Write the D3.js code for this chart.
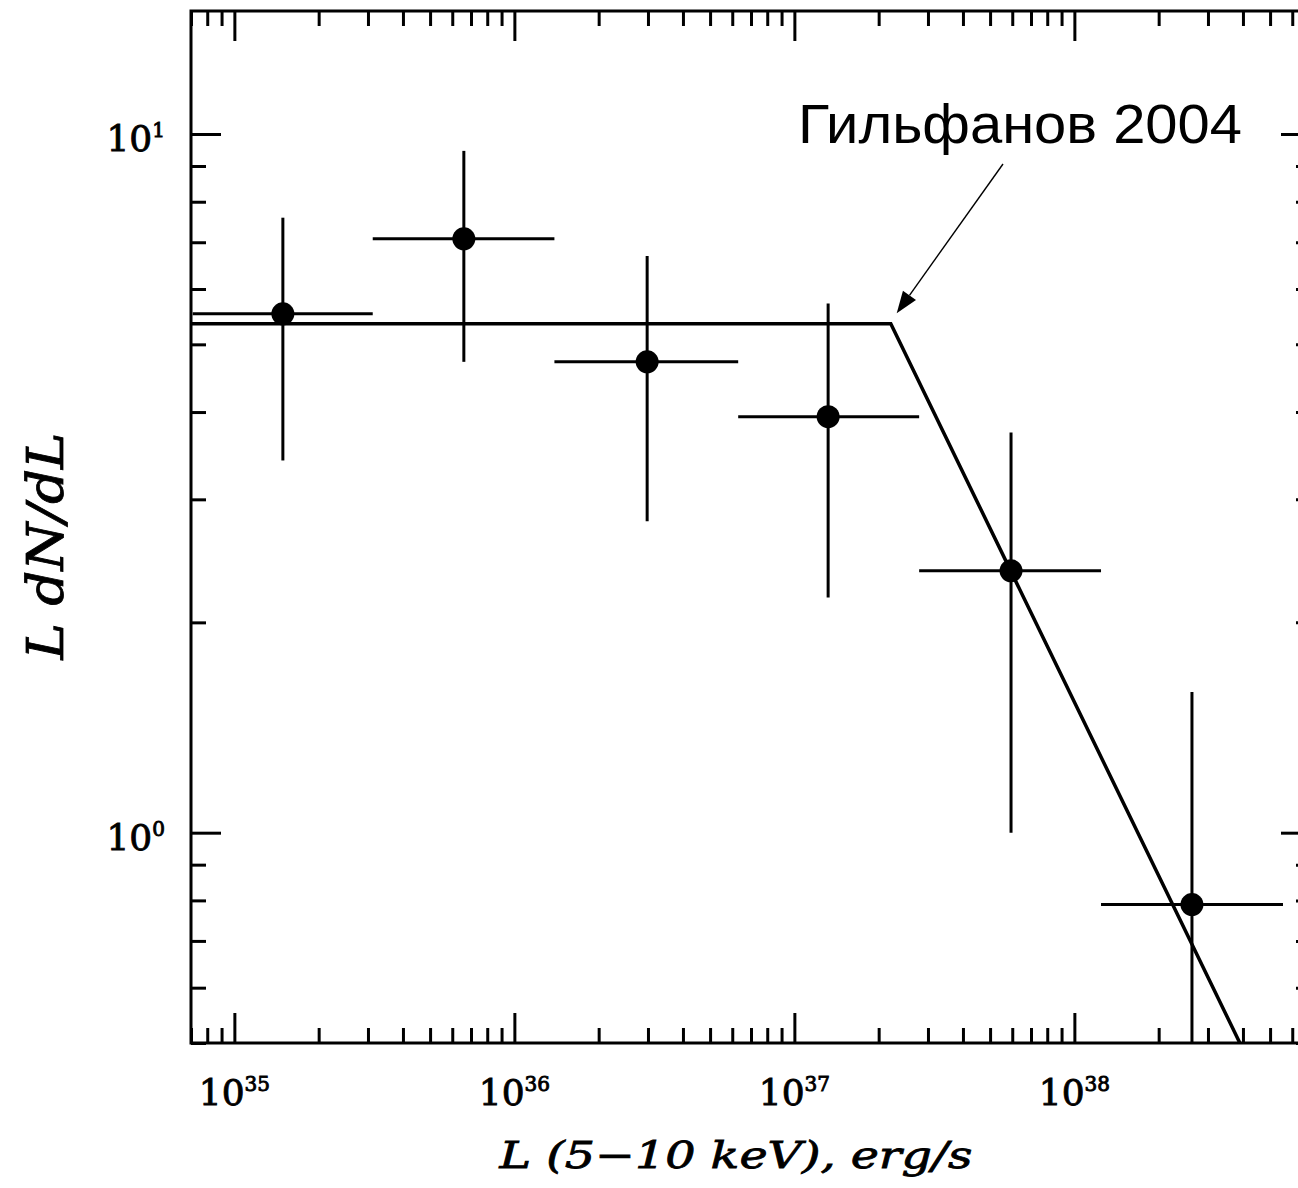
<!DOCTYPE html>
<html>
<head>
<meta charset="utf-8">
<script src="https://cdn.jsdelivr.net/npm/d3@7"></script>
<style>
  html, body { margin: 0; padding: 0; background: #fff; }
  svg { display: block; }
</style>
</head>
<body>
<script>
// Luminosity bins (erg/s): shared edges, bin centres and L dN/dL values with errors
const binEdges = [7.1e34, 3.12e35, 1.39e36, 6.3e36, 2.79e37, 1.245e38, 5.56e38];
const lum      = [1.49e35, 6.6e35, 2.98e36, 1.32e37, 5.94e37, 2.63e38];
const ldndl    = [5.53, 7.08, 4.72, 3.94, 2.37, 0.789];
const errUpper = [7.59, 9.46, 6.69, 5.72, 3.74, 1.59];
const errLower = [3.41, 4.72, 2.79, 2.17, 1.00, 0.45];

// Broken power-law model (flat, then falling above the break)
const modelL = [7e34, 2.21e37, 3.9e38];
const modelV = [5.35, 5.35, 0.5];

// Annotation: label and arrow pointing at the break
const noteText = "Гильфанов 2004";
const noteAt = [1.03e37, 9.7];
const arrowFrom = [5.56e37, 9.06];
const arrowTo = [2.32e37, 5.54];

// Axis decades
const xDecades = [35, 36, 37, 38];
const yDecades = [0, 1];

const W = 1298, H = 1188;
const svg = d3.select("body").append("svg").attr("width", W).attr("height", H);

const pLeft = 191, pRight = 1311, pTop = 11, pBottom = 1043;
const x = d3.scaleLog().domain([7e34, 7e38]).range([pLeft, pRight]);
const y = d3.scaleLog().domain([0.5, 15]).range([pBottom, pTop]);

// tick value sets
function logTicks(scale) {
  const [a, b] = scale.domain();
  const major = [], minor = [];
  for (let e = Math.floor(Math.log10(a)); e <= Math.ceil(Math.log10(b)); e++) {
    for (let m = 1; m <= 9; m++) {
      const v = m * Math.pow(10, e);
      if (v < a * 0.999 || v > b * 1.001) continue;
      (m === 1 ? major : minor).push(v);
    }
  }
  return { major, minor };
}
const xt = logTicks(x), yt = logTicks(y);

svg.append("defs").append("clipPath").attr("id", "plotclip")
  .append("rect").attr("x", pLeft).attr("y", pTop)
  .attr("width", pRight - pLeft).attr("height", pBottom - pTop);

const axesG = svg.append("g").attr("class", "axes");
function drawAxis(gen, values, size, transform) {
  const g = axesG.append("g").attr("transform", transform)
    .call(gen.tickValues(values).tickSizeInner(size).tickSizeOuter(0).tickFormat(""));
  g.select(".domain").remove();
  g.selectAll(".tick line").attr("stroke", "#000").attr("stroke-width", 3);
}
// bottom / top
drawAxis(d3.axisBottom(x), xt.major, -30, `translate(0,${pBottom})`);
drawAxis(d3.axisBottom(x), xt.minor, -15, `translate(0,${pBottom})`);
drawAxis(d3.axisTop(x), xt.major, -30, `translate(0,${pTop})`);
drawAxis(d3.axisTop(x), xt.minor, -15, `translate(0,${pTop})`);
// left / right
drawAxis(d3.axisLeft(y), yt.major, -30, `translate(${pLeft},0)`);
drawAxis(d3.axisLeft(y), yt.minor, -15, `translate(${pLeft},0)`);
drawAxis(d3.axisRight(y), yt.major, -30, `translate(${pRight},0)`);
drawAxis(d3.axisRight(y), yt.minor, -15, `translate(${pRight},0)`);

// frame
svg.append("rect").attr("x", pLeft).attr("y", pTop)
  .attr("width", pRight - pLeft).attr("height", pBottom - pTop)
  .attr("fill", "none").attr("stroke", "#000").attr("stroke-width", 3);

// tick labels with superscript exponents
const labFont = "'DejaVu Serif', serif";
function powLabel(t, e) {
  t.attr("font-family", labFont)
    .attr("font-size", 36).attr("fill", "#000")
    .attr("stroke", "#000").attr("stroke-width", 0.9);
  t.append("tspan").text("10");
  t.append("tspan").attr("dy", -14).attr("font-size", 20).text(String(e));
}
xDecades.forEach(e => {
  powLabel(svg.append("text")
    .attr("x", x(Math.pow(10, e))).attr("y", pBottom + 62)
    .attr("text-anchor", "middle"), e);
});
yDecades.forEach(e => {
  powLabel(svg.append("text")
    .attr("x", pLeft - 26).attr("y", y(Math.pow(10, e)) + 17)
    .attr("text-anchor", "end"), e);
});

// axis titles
svg.append("text")
  .attr("x", 736).attr("y", 1168)
  .attr("text-anchor", "middle")
  .attr("font-family", labFont).attr("font-style", "italic")
  .attr("font-size", 37).attr("fill", "#000")
  .attr("stroke", "#000").attr("stroke-width", 0.8)
  .attr("textLength", 473).attr("lengthAdjust", "spacingAndGlyphs")
  .text("L (5\u221210 keV), erg/s");

svg.append("text")
  .attr("transform", `translate(63,546) rotate(-90)`)
  .attr("text-anchor", "middle")
  .attr("font-family", labFont).attr("font-style", "italic")
  .attr("font-size", 50).attr("fill", "#000")
  .attr("stroke", "#000").attr("stroke-width", 0.8)
  .attr("textLength", 227).attr("lengthAdjust", "spacingAndGlyphs")
  .text("L dN/dL");

// plot contents
const plot = svg.append("g").attr("clip-path", "url(#plotclip)");

const line = d3.line().x(d => x(d[0])).y(d => y(d[1]));
plot.append("path")
  .datum(modelL.map((L, i) => [L, modelV[i]]))
  .attr("d", line).attr("fill", "none")
  .attr("stroke", "#000").attr("stroke-width", 3.5)
  .attr("stroke-linejoin", "miter");

const pts = lum.map((L, i) => ({
  L, v: ldndl[i], lo: binEdges[i], hi: binEdges[i + 1],
  up: errUpper[i], dn: errLower[i]
}));

const pg = plot.selectAll("g.pt").data(pts).join("g").attr("class", "pt");
pg.append("line")
  .attr("x1", d => x(d.lo)).attr("x2", d => x(d.hi))
  .attr("y1", d => y(d.v)).attr("y2", d => y(d.v))
  .attr("stroke", "#000").attr("stroke-width", 3);
pg.append("line")
  .attr("x1", d => x(d.L)).attr("x2", d => x(d.L))
  .attr("y1", d => y(d.up)).attr("y2", d => y(d.dn))
  .attr("stroke", "#000").attr("stroke-width", 3);
pg.append("circle")
  .attr("cx", d => x(d.L)).attr("cy", d => y(d.v)).attr("r", 11.5)
  .attr("fill", "#000");

// annotation
svg.append("text")
  .attr("x", x(noteAt[0])).attr("y", y(noteAt[1]))
  .attr("font-family", "'Liberation Sans', Arial, sans-serif")
  .attr("font-size", 55).attr("fill", "#000")
  .attr("textLength", 444).attr("lengthAdjust", "spacingAndGlyphs")
  .text(noteText);

const ax0 = x(arrowFrom[0]), ay0 = y(arrowFrom[1]);
const ax1 = x(arrowTo[0]), ay1 = y(arrowTo[1]);
const ang = Math.atan2(ay1 - ay0, ax1 - ax0);
const headLen = 22, headHalf = 8;
const bx = ax1 - headLen * Math.cos(ang), by = ay1 - headLen * Math.sin(ang);
svg.append("line")
  .attr("x1", ax0).attr("y1", ay0).attr("x2", bx).attr("y2", by)
  .attr("stroke", "#000").attr("stroke-width", 1.4);
svg.append("path")
  .attr("d", `M${ax1},${ay1}L${bx - headHalf * Math.sin(ang)},${by + headHalf * Math.cos(ang)}L${bx + headHalf * Math.sin(ang)},${by - headHalf * Math.cos(ang)}Z`)
  .attr("fill", "#000");
</script>
</body>
</html>
